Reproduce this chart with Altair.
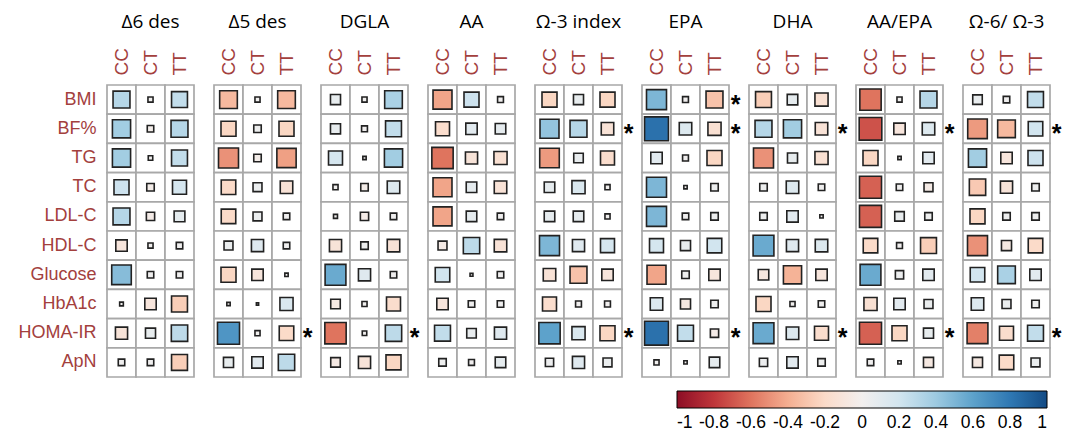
import altair as alt
import pandas as pd

measures = ["BMI", "BF%", "TG", "TC", "LDL-C", "HDL-C", "Glucose", "HbA1c", "HOMA-IR", "ApN"]
genotypes = ["CC", "CT", "TT"]
panels = ["Δ6 des", "Δ5 des", "DGLA", "AA", "Ω-3 index", "EPA", "DHA", "AA/EPA", "Ω-6/ Ω-3"]

# correlation coefficients, rows = measures, columns = CC, CT, TT
d6des = [[0.31, 0.01, 0.26], [0.38, -0.02, 0.31], [0.38, 0.007, 0.26], [0.22, -0.03, 0.18],
         [0.31, -0.04, 0.085], [-0.1, 0.01, 0.02], [0.47, 0.02, 0.02], [0.004, -0.1, -0.26],
         [-0.12, 0.07, 0.28], [0.02, 0.02, -0.26]]
d5des = [[-0.35, 0.01, -0.35], [-0.22, 0.03, -0.22], [-0.5, -0.03, -0.45], [-0.2, 0.05, -0.13],
         [-0.2, 0.05, 0.02], [0.05, 0.12, 0.02], [-0.22, -0.1, 0.003], [0.003, 0.001, 0.15],
         [0.66, 0.01, -0.2], [0.07, 0.1, 0.28]]
dgla = [[0.07, 0.01, 0.35], [0.07, 0.015, 0.26], [0.18, 0.003, 0.38], [0.01, -0.03, 0.13],
        [0.005, -0.04, 0.02], [-0.12, 0.03, -0.13], [0.56, 0.12, 0.02], [-0.06, 0.01, -0.18],
        [-0.6, 0.007, 0.28], [-0.06, -0.12, -0.22]]
aa = [[-0.43, 0.22, 0.015], [-0.18, 0.1, 0.08], [-0.6, -0.12, -0.15], [-0.43, 0.08, -0.13],
      [-0.43, 0.08, 0.02], [-0.05, 0.28, -0.13], [0.2, 0.002, 0.02], [-0.1, 0.02, 0.02],
      [0.26, 0.06, 0.12], [0.03, 0.015, 0.08]]
o3index = [[-0.22, 0.07, -0.22], [0.43, 0.31, -0.13], [-0.47, 0.06, -0.18], [0.08, 0.15, 0.01],
           [0.08, 0.08, 0.01], [0.5, 0.12, 0.18], [-0.13, -0.31, -0.1], [-0.18, 0.015, 0.015],
           [0.6, 0.15, -0.22], [0.04, 0.12, 0.05]]
epa = [[0.5, 0.015, -0.31], [0.83, 0.13, -0.15], [0.1, 0.015, -0.22], [0.5, 0.003, 0.03],
       [0.5, 0.02, 0.03], [0.18, 0.07, 0.2], [-0.43, 0.03, -0.1], [0.13, -0.07, 0.03],
       [0.83, 0.26, -0.04], [0.01, 0.003, 0.08]]
dha = [[-0.26, 0.08, -0.15], [0.31, 0.38, -0.13], [-0.5, 0.07, -0.15], [0.03, 0.13, 0.02],
       [0.03, 0.1, 0.003], [0.56, 0.12, 0.13], [-0.08, -0.38, -0.1], [-0.22, 0.01, 0.02],
       [0.56, 0.13, -0.18], [0.04, 0.1, 0.03]]
aa_epa = [[-0.6, 0.01, 0.31], [-0.71, -0.1, 0.13], [-0.22, 0.003, 0.1], [-0.66, 0.02, -0.05],
          [-0.66, 0.06, 0.03], [-0.2, 0.015, -0.26], [0.56, 0.04, 0.1], [-0.15, 0.1, 0.05],
          [-0.66, -0.22, 0.07], [0.02, 0.003, -0.07]]
o6o3 = [[0.06, 0.02, 0.26], [-0.47, -0.35, 0.2], [0.38, -0.1, 0.22], [-0.28, -0.12, 0.03],
        [-0.22, 0.03, 0.03], [-0.5, -0.07, -0.2], [0.2, 0.35, 0.1], [0.13, 0.05, 0.03],
        [-0.56, -0.18, 0.26], [-0.07, -0.2, 0.05]]

matrices = [d6des, d5des, dgla, aa, o3index, epa, dha, aa_epa, o6o3]

significant = [("Δ5 des", "HOMA-IR"), ("DGLA", "HOMA-IR"), ("Ω-3 index", "BF%"),
               ("Ω-3 index", "HOMA-IR"), ("EPA", "BMI"), ("EPA", "BF%"), ("EPA", "HOMA-IR"),
               ("DHA", "BF%"), ("DHA", "HOMA-IR"), ("AA/EPA", "BF%"), ("AA/EPA", "HOMA-IR"),
               ("Ω-6/ Ω-3", "BF%"), ("Ω-6/ Ω-3", "HOMA-IR")]

colorbar_ticks = [-1, -0.8, -0.6, -0.4, -0.2, 0, 0.2, 0.4, 0.6, 0.8, 1]

records = []
for p, mat in zip(panels, matrices):
    for r, rowvals in zip(measures, mat):
        for g, v in zip(genotypes, rowvals):
            records.append({"panel": p, "row": r, "geno": g, "value": v, "absval": abs(v)})
df = pd.DataFrame(records)
sig_df = pd.DataFrame([{"panel": p, "row": r, "geno": "TT"} for p, r in significant])

LABEL_COLOR = "#a3403d"

legend = alt.Legend(
    orient="none", legendX=570, legendY=306, direction="horizontal",
    gradientLength=370, gradientThickness=17, gradientStrokeColor="black",
    gradientStrokeWidth=1, values=colorbar_ticks, title=None,
    labelFont="Liberation Sans", labelFontSize=17.5, labelColor="black",
    labelOffset=6, labelOverlap=False, labelAlign="center",
    labelExpr="datum.value + ''",
)


def make_panel(name, first):
    x = alt.X("geno:N", title=None,
              scale=alt.Scale(domain=genotypes, paddingInner=0, paddingOuter=0),
              axis=alt.Axis(orient="top", labelAngle=-90, labelAlign="left",
                            labelBaseline="middle", labelPadding=10, ticks=False,
                            domain=False, labelFont="Liberation Sans", labelFontSize=19,
                            labelColor=LABEL_COLOR))
    if first:
        yaxis = alt.Axis(ticks=False, domain=False, labelFont="Liberation Sans",
                         labelFontSize=18, labelColor=LABEL_COLOR, labelPadding=11)
    else:
        yaxis = alt.Axis(ticks=False, domain=False, labels=False)
    y = alt.Y("row:N", title=None,
              scale=alt.Scale(domain=measures, paddingInner=0, paddingOuter=0),
              axis=yaxis)
    base = alt.Chart(df).transform_filter(alt.datum.panel == name)
    grid = base.mark_rect(fill="white", stroke="#a8a8a8", strokeWidth=1.7).encode(x=x, y=y)
    squares = base.mark_square(filled=True, stroke="#222222", strokeWidth=1.6, opacity=1).encode(
        x=x, y=y,
        color=alt.Color("value:Q", scale=alt.Scale(scheme="redblue", domain=[-1, 1]),
                        legend=legend),
        size=alt.Size("absval:Q", scale=alt.Scale(type="pow", exponent=0.7, domain=[0, 1],
                                                 range=[0, 650]), legend=None),
    )
    layers = [grid, squares]
    if (sig_df["panel"] == name).any():
        stars = alt.Chart(sig_df).transform_filter(alt.datum.panel == name).mark_text(
            text="*", dx=21, dy=5, fontSize=25, font="Liberation Sans", fontWeight="bold",
            color="black").encode(x=x, y=y)
        layers.append(stars)
    return alt.layer(*layers).properties(
        width=87, height=292,
        title=alt.TitleParams(name, font="Open Sans", fontSize=19, fontWeight="normal",
                              color="black", offset=16, anchor="middle"))


charts = [make_panel(p, i == 0) for i, p in enumerate(panels)]
chart = alt.hconcat(*charts, spacing=20, bounds="flush").properties(
    padding={"left": 10, "top": 4, "right": 0, "bottom": 0}
).configure_view(strokeWidth=0)

chart.save("out.html", embed_options={"renderer": "svg", "actions": False})
